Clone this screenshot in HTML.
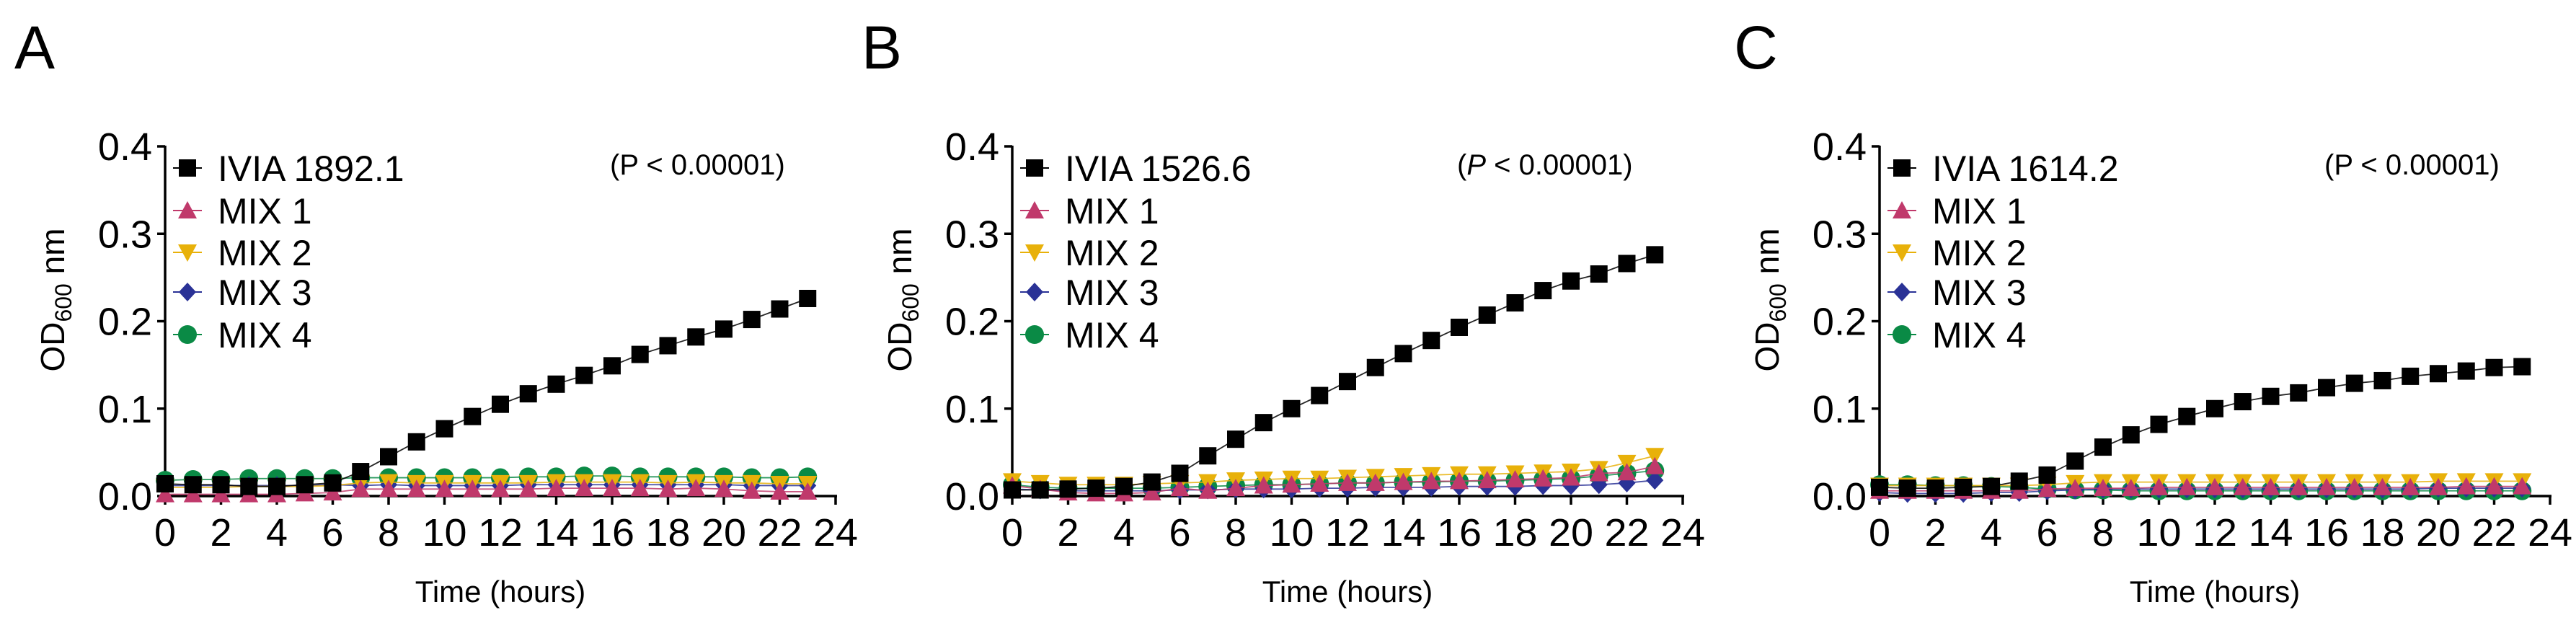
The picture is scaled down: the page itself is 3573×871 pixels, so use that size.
<!DOCTYPE html>
<html><head><meta charset="utf-8">
<style>
html,body{margin:0;padding:0;background:#fff;}
svg{display:block;font-family:"Liberation Sans",Arial,sans-serif;}
</style></head>
<body>
<svg id="fig" width="3573" height="871" viewBox="0 0 3573 871" xmlns="http://www.w3.org/2000/svg"></svg>
<script>
const hours = [0,1,2,3,4,5,6,7,8,9,10,11,12,13,14,15,16,17,18,19,20,21,22,23];
const xTicks = [0,2,4,6,8,10,12,14,16,18,20,22,24];
const yTicks = [0.0,0.1,0.2,0.3,0.4];
const yTickLabels = ["0.0","0.1","0.2","0.3","0.4"];
const panelLetters = ["A","B","C"];
const strainNames = ["IVIA 1892.1","IVIA 1526.6","IVIA 1614.2"];
const mixNames = ["MIX 1","MIX 2","MIX 3","MIX 4"];

// Panel A
const A_strain = [0.014,0.013,0.013,0.011,0.011,0.013,0.015,0.028,0.045,0.062,0.077,0.091,0.105,0.117,0.128,0.138,0.149,0.162,0.172,0.182,0.191,0.202,0.214,0.226];
const A_strainErr = [0.003,0.003,0.003,0.003,0.003,0.004,0.007,0.008,0.008,0.007,0.007,0.007,0.006,0.005,0.005,0.005,0.004,0.004,0.003,0.004,0.004,0.003,0.003,0.004];
const A_mix1 = [0.002,0.002,0.002,0.002,0.002,0.003,0.004,0.008,0.008,0.008,0.008,0.008,0.008,0.008,0.009,0.009,0.009,0.009,0.008,0.009,0.008,0.006,0.005,0.005];
const A_mix2 = [0.010,0.010,0.010,0.011,0.011,0.011,0.012,0.015,0.016,0.015,0.015,0.015,0.015,0.015,0.016,0.016,0.016,0.016,0.015,0.016,0.015,0.015,0.014,0.014];
const A_mix3 = [0.012,0.012,0.012,0.012,0.012,0.012,0.013,0.012,0.013,0.012,0.012,0.012,0.012,0.013,0.013,0.013,0.013,0.013,0.013,0.013,0.013,0.012,0.012,0.012];
const A_mix4 = [0.018,0.019,0.019,0.020,0.020,0.020,0.020,0.021,0.021,0.021,0.021,0.021,0.021,0.022,0.022,0.023,0.023,0.022,0.022,0.022,0.022,0.021,0.021,0.022];
// Panel B
const B_strain = [0.007,0.007,0.008,0.009,0.011,0.016,0.026,0.046,0.065,0.084,0.100,0.115,0.131,0.147,0.163,0.178,0.193,0.207,0.221,0.235,0.246,0.254,0.266,0.276];
const B_strainErr = [0.002,0.002,0.002,0.002,0.002,0.002,0.003,0.003,0.003,0.003,0.003,0.003,0.003,0.003,0.003,0.003,0.003,0.003,0.003,0.003,0.003,0.003,0.003,0.003];
const B_mix1 = [0.012,0.008,0.004,0.003,0.003,0.004,0.009,0.006,0.009,0.012,0.013,0.014,0.015,0.015,0.016,0.017,0.017,0.018,0.019,0.020,0.021,0.026,0.027,0.034];
const B_mix2 = [0.017,0.015,0.013,0.013,0.013,0.014,0.015,0.016,0.018,0.019,0.020,0.020,0.021,0.022,0.023,0.024,0.025,0.025,0.026,0.027,0.028,0.031,0.038,0.046];
const B_mix3 = [0.008,0.007,0.006,0.006,0.006,0.006,0.007,0.007,0.008,0.008,0.008,0.009,0.009,0.010,0.010,0.010,0.011,0.011,0.011,0.012,0.012,0.013,0.015,0.018];
const B_mix4 = [0.013,0.010,0.009,0.009,0.009,0.009,0.010,0.011,0.012,0.013,0.013,0.014,0.015,0.015,0.016,0.016,0.017,0.017,0.018,0.019,0.020,0.023,0.026,0.029];
// Panel C
const C_strain = [0.010,0.009,0.009,0.010,0.011,0.017,0.024,0.040,0.056,0.070,0.082,0.091,0.100,0.108,0.114,0.118,0.124,0.129,0.132,0.137,0.140,0.143,0.147,0.148];
const C_strainErr = [0.003,0.003,0.003,0.003,0.003,0.004,0.005,0.005,0.005,0.005,0.005,0.005,0.005,0.006,0.006,0.006,0.006,0.006,0.006,0.006,0.006,0.006,0.005,0.005];
const C_mix1 = [0.006,0.006,0.006,0.006,0.006,0.006,0.008,0.009,0.009,0.009,0.010,0.010,0.010,0.010,0.010,0.010,0.010,0.010,0.010,0.010,0.010,0.011,0.011,0.011];
const C_mix2 = [0.012,0.012,0.012,0.012,0.012,0.012,0.013,0.015,0.016,0.016,0.016,0.016,0.016,0.016,0.016,0.016,0.016,0.016,0.016,0.016,0.017,0.017,0.017,0.017];
const C_mix3 = [0.004,0.003,0.003,0.003,0.004,0.004,0.006,0.007,0.008,0.008,0.008,0.008,0.008,0.008,0.008,0.008,0.008,0.008,0.008,0.008,0.009,0.009,0.009,0.009];
const C_mix4 = [0.013,0.013,0.012,0.012,0.011,0.010,0.008,0.007,0.007,0.006,0.006,0.006,0.006,0.006,0.006,0.006,0.006,0.006,0.006,0.006,0.006,0.006,0.006,0.006];

const NS = "http://www.w3.org/2000/svg";
const svg = document.getElementById("fig");
const COLORS = {strain:"#000000", mix1:"#C0396B", mix2:"#E8B10A", mix3:"#2A3296", mix4:"#0A8A45"};
const SHAPES = {strain:"square", mix1:"tri", mix2:"tridown", mix3:"diamond", mix4:"circle"};

function mk(tag, attrs, parent){
  const e = document.createElementNS(NS, tag);
  for (const k in attrs) e.setAttribute(k, attrs[k]);
  (parent||svg).appendChild(e);
  return e;
}
function marker(g, shape, cx, cy, color){
  let e;
  if (shape==="square") e = mk("rect",{x:cx-12,y:cy-12,width:24,height:24,fill:color},g);
  else if (shape==="circle") e = mk("circle",{cx:cx,cy:cy,r:13,fill:color},g);
  else if (shape==="tri") e = mk("polygon",{points:`${cx},${cy-13} ${cx+13},${cy+11} ${cx-13},${cy+11}`,fill:color},g);
  else if (shape==="tridown") e = mk("polygon",{points:`${cx},${cy+13} ${cx+13},${cy-11} ${cx-13},${cy-11}`,fill:color},g);
  else e = mk("polygon",{points:`${cx},${cy-13} ${cx+12},${cy} ${cx},${cy+13} ${cx-12},${cy}`,fill:color},g);
  return e;
}

const panels = [
  {off:0, strain:A_strain, err:A_strainErr, mixes:[A_mix1,A_mix2,A_mix3,A_mix4], italicP:false},
  {off:1175, strain:B_strain, err:B_strainErr, mixes:[B_mix1,B_mix2,B_mix3,B_mix4], italicP:true},
  {off:2378, strain:C_strain, err:C_strainErr, mixes:[C_mix1,C_mix2,C_mix3,C_mix4], italicP:false}
];

panels.forEach((p, pi) => {
  const x0 = 229 + p.off, xw = 930, y0 = 688, yh = 485;
  const xs = h => x0 + h/24*xw;
  const ys = v => y0 - v/0.4*yh;
  const g = mk("g",{});
  
  

  const letter = mk("text",{x:20+p.off*(pi===2?1.003:1), y:95, "font-size":84, fill:"#000"}, g);
  letter.textContent = panelLetters[pi];
  
  

  // axes
  const yax = mk("line",{x1:x0,y1:ys(0.4)-1,x2:x0,y2:y0+2,stroke:"#000","stroke-width":3.5},g);
  
  
  const xax = mk("line",{x1:x0-2,y1:y0,x2:xs(24)+2,y2:y0,stroke:"#000","stroke-width":3.5},g);
  
  

  yTicks.forEach((v,i) => {
    mk("line",{x1:x0-11,y1:ys(v),x2:x0,y2:ys(v),stroke:"#000","stroke-width":3.5},g);
    const t = mk("text",{x:x0-18,y:ys(v)+19,"font-size":54,"text-anchor":"end",fill:"#000"},g);
    t.textContent = yTickLabels[i];
    
    
  });
  xTicks.forEach(h => {
    mk("line",{x1:xs(h),y1:y0,x2:xs(h),y2:y0+12,stroke:"#000","stroke-width":3.5},g);
    const t = mk("text",{x:xs(h),y:757,"font-size":54,"text-anchor":"middle",fill:"#000",textLength:(h>=10?62:30),lengthAdjust:"spacingAndGlyphs"},g);
    t.textContent = h;
    
    
  });

  const xt = mk("text",{x:x0+465,y:835,"font-size":42,"text-anchor":"middle",fill:"#000"},g);
  xt.textContent = "Time (hours)";
  
  

  const yt = mk("text",{x:0,y:0,"font-size":46,"text-anchor":"middle",fill:"#000",transform:`translate(${x0-140},416) rotate(-90)`},g);
  
  
  const s1 = mk("tspan",{},yt); s1.textContent = "OD";
  const s2 = mk("tspan",{"font-size":32,dy:10},yt); s2.textContent = "600";
  const s3 = mk("tspan",{dy:-10},yt); s3.textContent = " nm";

  const pt = mk("text",{x:x0+617,y:242,"font-size":40,fill:"#000"},g);
  
  
  const q1 = mk("tspan",{},pt); q1.textContent = "(";
  const q2 = mk("tspan",{"font-style":p.italicP?"italic":"normal"},pt); q2.textContent = "P";
  const q3 = mk("tspan",{},pt); q3.textContent = " < 0.00001)";

  // series: draw mix4, mix3, mix2, mix1, strain
  const series = [
    {key:"mix4", data:p.mixes[3]},
    {key:"mix3", data:p.mixes[2]},
    {key:"mix2", data:p.mixes[1]},
    {key:"mix1", data:p.mixes[0]},
    {key:"strain", data:p.strain, err:p.err}
  ];
  series.forEach(s => {
    const sg = mk("g",{},g);
    
    
    const pts = hours.map((h,i)=>`${xs(h)},${ys(s.data[i])}`).join(" ");
    mk("polyline",{points:pts,fill:"none",stroke:COLORS[s.key],"stroke-width":1.8,opacity:0.85},sg);
    if (s.err){
      hours.forEach((h,i)=>{
        const cx = xs(h), hi = ys(s.data[i]+s.err[i]), lo = ys(s.data[i]-s.err[i]);
        mk("path",{d:`M${cx},${hi}V${lo}M${cx-11},${hi}H${cx+11}M${cx-11},${lo}H${cx+11}`,stroke:"#222","stroke-width":2,fill:"none"},sg);
      });
    }
    hours.forEach((h,i)=>{
      const m = marker(sg, SHAPES[s.key], xs(h), ys(s.data[i]), COLORS[s.key]);
      
      
    });
  });

  // legend
  const legendKeys = ["strain","mix1","mix2","mix3","mix4"];
  const legendLabels = [strainNames[pi]].concat(mixNames);
  const rowY = [233,292,350,405,464];
  legendKeys.forEach((k,i)=>{
    const lg = mk("g",{},g);
    
    
    const lx = x0+31, ly = rowY[i];
    mk("line",{x1:lx-20,y1:ly,x2:lx+20,y2:ly,stroke:COLORS[k],"stroke-width":2},lg);
    marker(lg, SHAPES[k], lx, ly, COLORS[k]);
    const t = mk("text",{x:x0+73,y:ly+18,"font-size":50,fill:"#000"},lg);
    t.textContent = legendLabels[i];
  });
});
</script>
</body></html>
